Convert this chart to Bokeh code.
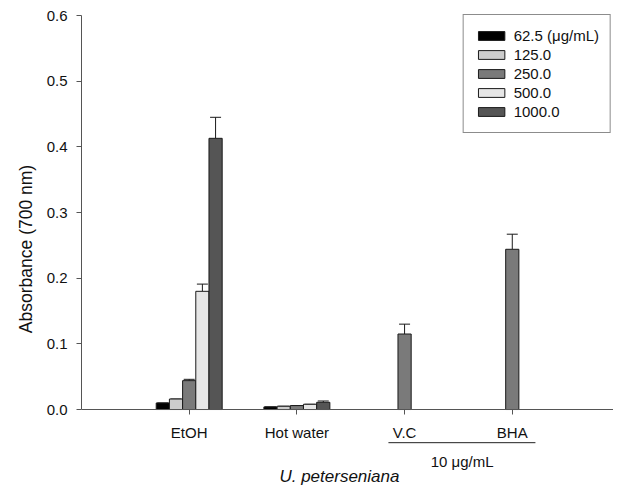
import numpy as np
from bokeh.plotting import figure
from bokeh.models import (ColumnDataSource, FixedTicker, Whisker, TeeHead,
                          Legend, LegendItem, Range1d)
from bokeh.core.properties import value
from bokeh.embed import file_html
from bokeh.resources import INLINE

# ---- data ----
groups = ["EtOH", "Hot water", "V.C", "BHA"]
series_labels = ["62.5 (\u03bcg/mL)", "125.0", "250.0", "500.0", "1000.0"]
conc_62_5 = [0.010, 0.004, None, None]
conc_125 = [0.016, 0.005, None, None]
conc_250 = [0.044, 0.006, 0.115, 0.244]
conc_500 = [0.180, 0.008, None, None]
conc_1000 = [0.413, 0.011, None, None]
err_62_5 = [0.0, 0.0, None, None]
err_125 = [0.0, 0.0, None, None]
err_250 = [0.002, 0.0, 0.015, 0.023]
err_500 = [0.011, 0.0, None, None]
err_1000 = [0.032, 0.002, None, None]
y_ticks = [0.0, 0.1, 0.2, 0.3, 0.4, 0.5, 0.6]

series_values = [conc_62_5, conc_125, conc_250, conc_500, conc_1000]
series_errors = [err_62_5, err_125, err_250, err_500, err_1000]
colors = ["#000000", "#cccccc", "#7a7a7a", "#e6e6e6", "#555555"]

FONT = "Liberation Sans"
TXT = "#111111"
bar_w = 0.1225

p = figure(width=613, height=485, output_backend="svg", toolbar_location=None,
           x_range=Range1d(0, 4.94), y_range=Range1d(-0.1157, 0.6046),
           min_border_left=81, min_border_right=0, min_border_top=12,
           min_border_bottom=0)
p.outline_line_color = None
p.xgrid.visible = False
p.ygrid.visible = False

legend_items = []
for k, (vals, errs, lab, col) in enumerate(zip(series_values, series_errors,
                                               series_labels, colors)):
    offset = (k - 2) * bar_w
    xs, tops, ups = [], [], []
    for gi, (v, e) in enumerate(zip(vals, errs)):
        if v is None:
            continue
        xs.append(gi + 1 + offset)
        tops.append(v)
        ups.append(v + (e or 0.0))
    src = ColumnDataSource(dict(x=xs, top=tops, upper=ups))
    r = p.vbar(x="x", top="top", bottom=0, width=bar_w, source=src, fill_color=col,
               line_color="#1a1a1a", line_width=1)
    legend_items.append(LegendItem(label=lab, renderers=[r]))
    w = Whisker(base="x", lower="top", upper="upper", source=src,
                line_color="#1a1a1a", line_width=1,
                upper_head=TeeHead(size=11, line_color="#1a1a1a", line_width=1),
                lower_head=None)
    p.add_layout(w)

legend = Legend(items=legend_items, location="top_right")
legend.border_line_color = "#1a1a1a"
legend.border_line_width = 1
legend.background_fill_alpha = 1
legend.margin = 2
legend.padding = 11
legend.spacing = 0
legend.glyph_width = 33
legend.glyph_height = 11
legend.label_height = 19
legend.label_standoff = 6
legend.label_text_font = FONT
legend.label_text_font_size = "15px"
legend.label_text_color = TXT
p.add_layout(legend)

# axes
ax_col = "#555555"
p.xaxis.fixed_location = 0
p.xaxis.ticker = FixedTicker(ticks=[1, 2, 3, 4])
p.xaxis.major_label_overrides = {i + 1: g for i, g in enumerate(groups)}
p.xaxis.minor_tick_line_color = None
p.xaxis.major_tick_in = 0
p.xaxis.major_tick_out = 5
p.xaxis.major_label_standoff = 9
p.xaxis.axis_line_color = ax_col
p.xaxis.major_tick_line_color = ax_col
p.xaxis.major_label_text_font = FONT
p.xaxis.major_label_text_font_size = "15px"
p.xaxis.major_label_text_color = TXT

p.yaxis.ticker = FixedTicker(ticks=y_ticks)
p.yaxis.major_label_overrides = {v: f"{v:.1f}" for v in y_ticks}
p.yaxis.bounds = (0, 0.6)
p.yaxis.minor_tick_line_color = None
p.yaxis.major_tick_in = 0
p.yaxis.major_tick_out = 5
p.yaxis.major_label_standoff = 9
p.yaxis.axis_line_color = ax_col
p.yaxis.major_tick_line_color = ax_col
p.yaxis.major_label_text_font = FONT
p.yaxis.major_label_text_font_size = "15px"
p.yaxis.major_label_text_color = TXT
p.yaxis.axis_label = "Absorbance (700 nm)"
p.yaxis.axis_label_text_font = FONT
p.yaxis.axis_label_text_font_size = "17.5px"
p.yaxis.axis_label_text_font_style = "normal"
p.yaxis.axis_label_text_color = TXT
p.yaxis.axis_label_standoff = 8

# bracket annotation under V.C / BHA and the species name
p.segment(x0=[2.85], y0=[-0.0505], x1=[4.215], y1=[-0.0505],
          line_color="#222222", line_width=1)
p.text(x=[3.535], y=[-0.0785], text=["10 \u03bcg/mL"], text_align="center",
       text_baseline="middle", text_font=value(FONT), text_font_size="15px",
       text_color=TXT)
p.text(x=[2.395], y=[-0.1025], text=["U. peterseniana"], text_align="center",
       text_baseline="middle", text_font=value(FONT), text_font_size="17px",
       text_font_style="italic", text_color=TXT)

open("out.html", "w").write(file_html(p, INLINE))
